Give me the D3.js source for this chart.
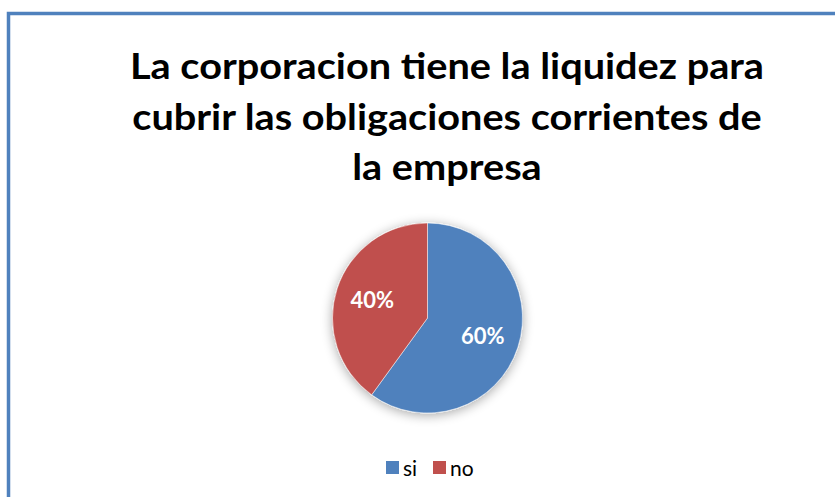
<!DOCTYPE html>
<html><head><meta charset="utf-8">
<script src="https://cdn.jsdelivr.net/npm/d3@7"></script>
<style>body{margin:0;background:#fff}svg{display:block}</style>
</head><body>
<svg id="c" width="835" height="497"></svg>
<script>
const titleLines = ["La corporacion tiene la liquidez para", "cubrir las obligaciones corrientes de", "la empresa"];
const categories = ["si", "no"];
const values = [60, 40];
const colors = ["#4f81bd", "#c0504d"];

const svg = d3.select("#c");
const W = 835, H = 497;
svg.append("rect").attr("width", W).attr("height", H).attr("fill", "#fff");
// border
svg.append("path").attr("d", `M8.5,${H+5} L8.5,13.5 L${W+5},13.5`)
  .attr("fill", "none").attr("stroke", "#4f81bd").attr("stroke-width", 3.5);

const defs = svg.append("defs");
const f = defs.append("filter").attr("id", "sh").attr("x", "-30%").attr("y", "-30%").attr("width", "160%").attr("height", "160%");
f.append("feGaussianBlur").attr("in", "SourceAlpha").attr("stdDeviation", 6).attr("result", "b");
f.append("feOffset").attr("in", "b").attr("dx", 0).attr("dy", 2).attr("result", "o");
f.append("feComponentTransfer").attr("in", "o").attr("result", "o2")
  .append("feFuncA").attr("type", "linear").attr("slope", 0.35);
const m = f.append("feMerge");
m.append("feMergeNode").attr("in", "o2");
m.append("feMergeNode").attr("in", "SourceGraphic");

// title
const baselines = [79, 130, 180];
titleLines.forEach((l, i) => {
  const tx = svg.append("text").attr("text-anchor", "middle")
    .attr("font-family", "Lato, 'Open Sans', sans-serif").attr("font-weight", "bold")
    .attr("font-size", 37).attr("fill", "#000")
    .attr("x", 447).attr("y", baselines[i]).text(l);
  const w = tx.node().getComputedTextLength();
  tx.attr("textLength", w * 1.072).attr("lengthAdjust", "spacingAndGlyphs");
});

const cx = 427.5, cy = 318, R = 95;
const pie = d3.pie().sort(null).value(d => d)(values);
const arc = d3.arc().innerRadius(0).outerRadius(R);
const labelArc = d3.arc().innerRadius(58).outerRadius(58);
const g = svg.append("g").attr("transform", `translate(${cx},${cy})`);
const gp = g.append("g").attr("filter", "url(#sh)");
gp.selectAll("path").data(pie).join("path")
  .attr("d", arc).attr("fill", (d, i) => colors[i]).attr("stroke", "#fff").attr("stroke-width", 0.5);
g.selectAll("text").data(pie).join("text")
  .attr("transform", d => `translate(${labelArc.centroid(d)})`)
  .attr("text-anchor", "middle").attr("dy", "0.36em")
  .attr("font-family", "Lato, 'Open Sans', sans-serif").attr("font-weight", "bold")
  .attr("font-size", 22).attr("fill", "#fff")
  .text(d => d.data + "%");

// legend
const lg = svg.append("g").attr("font-family", "Lato, 'Open Sans', sans-serif").attr("font-size", 21);
const lx = [386, 433];
categories.forEach((c, i) => {
  lg.append("rect").attr("x", lx[i]).attr("y", 461).attr("width", 13).attr("height", 13).attr("fill", colors[i]);
  lg.append("text").attr("x", lx[i] + 17).attr("y", 476).attr("fill", "#000").text(c);
});
</script>
</body></html>
